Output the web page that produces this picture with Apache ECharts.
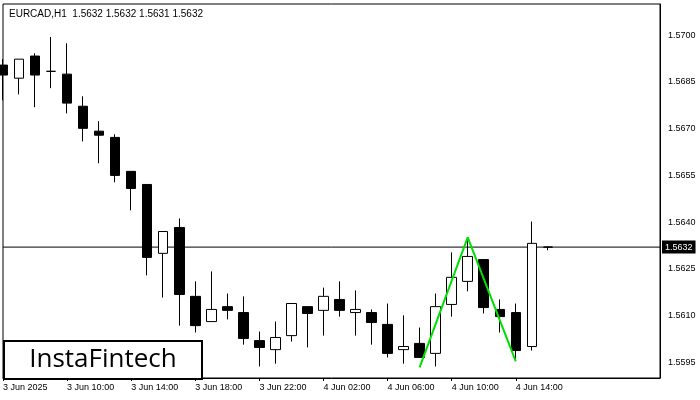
<!DOCTYPE html>
<html><head><meta charset="utf-8">
<script src="https://cdn.jsdelivr.net/npm/echarts@6/dist/echarts.min.js"></script>
<style>html,body{margin:0;padding:0;background:#fff}#c{width:700px;height:400px}</style>
</head><body><div id="c"></div>
<script>
const categories = ['3 Jun 06:00','3 Jun 07:00','3 Jun 08:00','3 Jun 09:00','3 Jun 10:00','3 Jun 11:00','3 Jun 12:00','3 Jun 13:00','3 Jun 14:00','3 Jun 15:00','3 Jun 16:00','3 Jun 17:00','3 Jun 18:00','3 Jun 19:00','3 Jun 20:00','3 Jun 21:00','3 Jun 22:00','3 Jun 23:00','4 Jun 00:00','4 Jun 01:00','4 Jun 02:00','4 Jun 03:00','4 Jun 04:00','4 Jun 05:00','4 Jun 06:00','4 Jun 07:00','4 Jun 08:00','4 Jun 09:00','4 Jun 10:00','4 Jun 11:00','4 Jun 12:00','4 Jun 13:00','4 Jun 14:00','4 Jun 15:00','4 Jun 16:00','4 Jun 17:00','4 Jun 18:00','4 Jun 19:00','4 Jun 20:00','4 Jun 21:00','4 Jun 22:00','4 Jun 23:00'];
const tickLabels = {0:'3 Jun 2025',4:'3 Jun 10:00',8:'3 Jun 14:00',12:'3 Jun 18:00',16:'3 Jun 22:00',20:'4 Jun 02:00',24:'4 Jun 06:00',28:'4 Jun 10:00',32:'4 Jun 14:00'};
// [open, close, low, high]
const ohlc = [
[1.56904,1.56872,1.56791,1.56923],
[1.56862,1.56923,1.56810,1.56923],
[1.56933,1.56872,1.56769,1.56942],
[1.56884,1.56884,1.56830,1.56994],
[1.56875,1.56782,1.56749,1.56974],
[1.56772,1.56701,1.56659,1.56804],
[1.56692,1.56679,1.56589,1.56724],
[1.56672,1.56550,1.56528,1.56682],
[1.56563,1.56508,1.56438,1.56563],
[1.56521,1.56287,1.56229,1.56521],
[1.56300,1.56370,1.56158,1.56370],
[1.56383,1.56168,1.56068,1.56412],
[1.56162,1.56068,1.56046,1.56210],
[1.56081,1.56120,1.56081,1.56242],
[1.56129,1.56117,1.56088,1.56171],
[1.56110,1.56027,1.56007,1.56162],
[1.56020,1.55998,1.55937,1.56049],
[1.55991,1.56030,1.55946,1.56081],
[1.56036,1.56139,1.56017,1.56139],
[1.56129,1.56107,1.55998,1.56129],
[1.56117,1.56162,1.56036,1.56190],
[1.56152,1.56117,1.56097,1.56210],
[1.56110,1.56120,1.56036,1.56181],
[1.56110,1.56078,1.56007,1.56120],
[1.56072,1.55979,1.55966,1.56139],
[1.55991,1.56001,1.55946,1.56101],
[1.56011,1.55966,1.55966,1.56062],
[1.55979,1.56129,1.55937,1.56171],
[1.56136,1.56223,1.56097,1.56303],
[1.56210,1.56290,1.56178,1.56351],
[1.56280,1.56126,1.56107,1.56280],
[1.56120,1.56097,1.56046,1.56152],
[1.56110,1.55988,1.55956,1.56139],
[1.56001,1.56332,1.55988,1.56402],
[1.56320,1.56320,1.56310,1.56322]
];
const patternLine = [[26,1.55934],[29,1.56351],[32,1.55953]];
const currentPrice = 1.5632;
const priceTicks = [1.5595,1.5610,1.5625,1.5640,1.5655,1.5670,1.5685,1.5700];

const chart = echarts.init(document.getElementById('c'));
const F = 'Liberation Sans';
chart.setOption({
  animation:false,
  backgroundColor:'#fff',
  grid:{left:3,right:40,top:4,bottom:22,show:true,borderColor:'#000',borderWidth:1},
  title:{text:'EURCAD,H1  1.5632 1.5632 1.5631 1.5632',left:4,top:4,textStyle:{fontFamily:F,fontSize:10,fontWeight:'normal',color:'#000'}},
  xAxis:{type:'category',data:categories,boundaryGap:false,
    axisLine:{lineStyle:{color:'#000'}},
    axisTick:{show:true,length:3,lineStyle:{color:'#000'},interval:i=>tickLabels[i]!==undefined},
    axisLabel:{interval:0,align:'left',margin:5,fontFamily:F,fontSize:9,color:'#000',formatter:(v,i)=>tickLabels[i]||''},
    splitLine:{show:false}},
  yAxis:{type:'value',position:'right',min:1.5590,max:1.5710,interval:0.0005,
    axisLine:{show:true,lineStyle:{color:'#000'}},
    axisTick:{show:false},
    axisLabel:{fontFamily:F,fontSize:9,color:'#000',margin:8,
      formatter:v=>priceTicks.some(t=>Math.abs(t-v)<1e-7)?v.toFixed(4):''},
    splitLine:{show:false}},
  series:[
    {type:'line',data:[[0,currentPrice],[categories.length-1,currentPrice]],symbol:'none',
      lineStyle:{color:'#000',width:1},z:1,
      endLabel:{show:true,formatter:currentPrice.toFixed(4),backgroundColor:'#000',color:'#fff',fontFamily:F,fontSize:9,padding:[2,3],distance:2}},
    {type:'candlestick',data:ohlc,barWidth:10,z:3,
      itemStyle:{color:'#fff',color0:'#000',borderColor:'#000',borderColor0:'#000',borderWidth:1}},
    {type:'line',data:patternLine,symbol:'none',lineStyle:{color:'#00e000',width:2},z:5}
  ],
  graphic:[{type:'group',left:3,top:340,children:[
    {type:'rect',shape:{x:0,y:0,width:198,height:38},style:{fill:'#fff',stroke:'#000',lineWidth:2}},
    {type:'text',x:99,y:19,style:{text:'InstaFintech',fontFamily:'Open Sans',fontSize:26,fill:'#000',align:'center',verticalAlign:'middle'}}
  ]}]
});
</script></body></html>
